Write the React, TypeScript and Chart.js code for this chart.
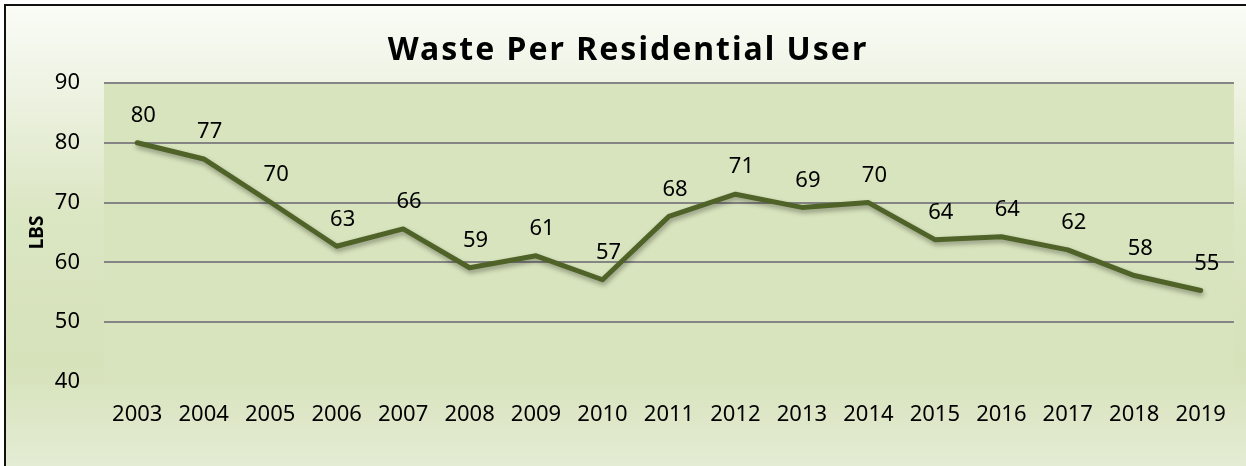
import React, { useEffect, useRef } from "react";
import { Chart, registerables } from "chart.js";

Chart.register(...registerables);

const years = ["2003", "2004", "2005", "2006", "2007", "2008", "2009", "2010", "2011", "2012", "2013", "2014", "2015", "2016", "2017", "2018", "2019"];
const lbsPerUser = [80.0, 77.3, 70.1, 62.7, 65.6, 59.1, 61.1, 57.1, 67.7, 71.4, 69.2, 70.0, 63.8, 64.3, 62.1, 57.8, 55.3];
const yMin = 40;
const yMax = 90;
const yStep = 10;
const chartTitle = "Waste Per Residential User";
const yAxisTitle = "LBS";

const FONT = "'Noto Sans', 'Open Sans', sans-serif";

const bgPlugin = {
  id: "bgPlugin",
  beforeDraw(chart: any) {
    const { ctx, width, height, chartArea } = chart;
    ctx.save();
    const g = ctx.createLinearGradient(0, 0, 0, height);
    g.addColorStop(0, "#fafcf6");
    g.addColorStop(0.15, "#f0f4e6");
    g.addColorStop(0.45, "#dbe6c3");
    g.addColorStop(0.78, "#d6e2ba");
    g.addColorStop(1, "#e4ecd4");
    ctx.fillStyle = g;
    ctx.fillRect(0, 0, width, height);
    ctx.fillStyle = "#d8e4bd";
    ctx.fillRect(chartArea.left, chartArea.top, chartArea.right - chartArea.left, chartArea.bottom - chartArea.top);
    ctx.restore();
  },
};

const lineDecorPlugin = {
  id: "lineDecor",
  beforeDatasetsDraw(chart: any) {
    const ctx = chart.ctx;
    ctx.save();
    ctx.shadowColor = "rgba(0,0,0,0.35)";
    ctx.shadowBlur = 5;
    ctx.shadowOffsetX = 1;
    ctx.shadowOffsetY = 3;
  },
  afterDatasetsDraw(chart: any) {
    const ctx = chart.ctx;
    ctx.restore();
    const meta = chart.getDatasetMeta(0);
    const data = chart.data.datasets[0].data as number[];
    ctx.save();
    ctx.font = `22px ${FONT}`;
    ctx.fillStyle = "#000000";
    ctx.textAlign = "center";
    ctx.textBaseline = "middle";
    meta.data.forEach((pt: any, i: number) => {
      ctx.fillText(String(Math.round(data[i])), pt.x + 6, pt.y - 27);
    });
    ctx.restore();
  },
};

const titlePlugin = {
  id: "customTitle",
  afterDraw(chart: any) {
    const ctx = chart.ctx;
    ctx.save();
    ctx.font = `bold 32px ${FONT}`;
    (ctx as any).letterSpacing = "2px";
    ctx.fillStyle = "#000000";
    ctx.textAlign = "center";
    ctx.textBaseline = "middle";
    ctx.fillText(chartTitle, 622, 45);
    ctx.restore();
  },
};

export default function App() {
  const canvasRef = useRef<HTMLCanvasElement | null>(null);

  useEffect(() => {
    if (!canvasRef.current) return;
    const chart = new Chart(canvasRef.current, {
      type: "line",
      data: {
        labels: years,
        datasets: [
          {
            data: lbsPerUser,
            borderColor: "#4f6228",
            borderWidth: 5,
            pointRadius: 0,
            pointHoverRadius: 0,
            tension: 0,
            fill: false,
            borderJoinStyle: "round",
            borderCapStyle: "round",
          },
        ],
      },
      options: {
        responsive: false,
        animation: false,
        devicePixelRatio: 1,
        layout: { padding: { top: 77, right: 4, left: 0, bottom: 0 } },
        plugins: {
          legend: { display: false },
          title: { display: false },
          tooltip: { enabled: false },
        },
        scales: {
          x: {
            offset: true,
            grid: { display: false, drawTicks: false },
            border: { display: false },
            ticks: {
              color: "#000000",
              font: { family: FONT, size: 22 },
              padding: 20,
              maxRotation: 0,
              autoSkip: false,
            },
            afterFit: (scale: any) => {
              scale.height = 84;
            },
          },
          y: {
            min: yMin,
            max: yMax,
            grid: {
              drawTicks: false,
              lineWidth: 2,
              color: (ctx: any) => (ctx.tick && ctx.tick.value === yMin ? "rgba(0,0,0,0)" : "#858585"),
            },
            border: { display: false },
            ticks: {
              stepSize: yStep,
              color: "#000000",
              font: { family: FONT, size: 22 },
              padding: 24,
            },
            title: {
              display: true,
              text: yAxisTitle,
              color: "#000000",
              font: { family: FONT, size: 19, weight: "bold" },
              padding: { top: 20, bottom: 0 },
            },
            afterFit: (scale: any) => {
              scale.width = 98;
            },
          },
        },
      },
      plugins: [bgPlugin, lineDecorPlugin, titlePlugin],
    });
    return () => chart.destroy();
  }, []);

  return (
    <div style={{ position: "fixed", left: 0, top: 0, width: 1246, height: 466, background: "#ffffff", overflow: "hidden" }}>
      <div
        style={{
          position: "absolute",
          left: 4,
          top: 4,
          width: 1250,
          height: 470,
          borderLeft: "2px solid #111111",
          borderTop: "2px solid #111111",
        }}
      >
        <canvas ref={canvasRef} width={1240} height={460} style={{ display: "block", width: 1240, height: 460 }} />
      </div>
    </div>
  );
}
